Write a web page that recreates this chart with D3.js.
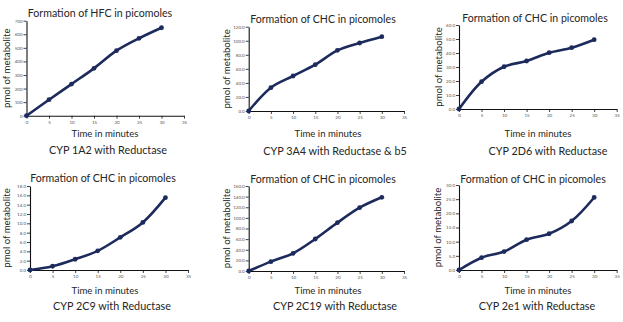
<!DOCTYPE html>
<html>
<head>
<meta charset="utf-8">
<script src="https://cdn.jsdelivr.net/npm/d3@7"></script>
<style>
  body { margin: 0; background: #fff; }
  text { font-family: Lato, "Liberation Sans", sans-serif; fill: #262626; }
</style>
</head>
<body>
<svg id="chart" width="623" height="322"></svg>
<script>
// time points (minutes)
var times = [0, 5, 10, 15, 20, 25, 30];

// pmol of metabolite
var hfc1A2   = [0, 118, 233, 349, 479, 570, 648];
var chc3A4   = [0, 33.2, 49.8, 65.9, 86.3, 96.8, 105.8];
var chc2D6   = [0, 19.5, 30.2, 34.3, 40.2, 43.8, 49.5];
var chc2C9   = [0, 0.8, 2.3, 4.1, 7.0, 10.2, 15.5];
var chc2C19  = [0, 17.6, 33.3, 60.2, 91.0, 119.2, 138.7];
var chc2e1   = [0, 4.35, 6.5, 10.7, 12.8, 17.3, 25.6];

var xTicks = [0, 5, 10, 15, 20, 25, 30, 35];
var yTicks1A2  = [0, 100, 200, 300, 400, 500, 600, 700];
var yTicks3A4  = [0, 20, 40, 60, 80, 100, 120];
var yTicks2D6  = [0, 10, 20, 30, 40, 50, 60];
var yTicks2C9  = [0, 2, 4, 6, 8, 10, 12, 14, 16, 18];
var yTicks2C19 = [0, 20, 40, 60, 80, 100, 120, 140, 160];
var yTicks2e1  = [0, 5, 10, 15, 20, 25, 30];

var titles = ["Formation of HFC in picomoles", "Formation of CHC in picomoles",
              "Formation of CHC in picomoles", "Formation of CHC in picomoles",
              "Formation of CHC in picomoles", "Formation of CHC in picomoles"];
var captions = ["CYP 1A2 with Reductase", "CYP 3A4 with Reductase & b5",
                "CYP 2D6 with Reductase", "CYP 2C9 with Reductase",
                "CYP 2C19 with Reductase", "CYP 2e1 with Reductase"];

var series = [hfc1A2, chc3A4, chc2D6, chc2C9, chc2C19, chc2e1];
var yTickSets = [yTicks1A2, yTicks3A4, yTicks2D6, yTicks2C9, yTicks2C19, yTicks2e1];

// where each small plot sits on the page
var layout = [
  { x0: 26.5,  x1: 184,   yTop: 20.7, yBot: 115.7, titleX: 100, titleY: 17,  ylabX: 7,   xlabX: 105, capX: 108, xlabY: 137, capY: 154, fmt: "d"   },
  { x0: 248.7, x1: 404,   yTop: 26.7, yBot: 111,   titleX: 323, titleY: 23,  ylabX: 227, xlabX: 328, capX: 335, xlabY: 137, capY: 155, fmt: ".1f" },
  { x0: 459,   x1: 616.7, yTop: 25,   yBot: 109,   titleX: 535, titleY: 22,  ylabX: 439, xlabX: 538, capX: 548, xlabY: 137, capY: 155, fmt: ".1f" },
  { x0: 30,    x1: 188,   yTop: 186,  yBot: 270,   titleX: 103, titleY: 182, ylabX: 7,   xlabX: 105, capX: 112, xlabY: 294, capY: 310, fmt: ".1f" },
  { x0: 248.7, x1: 404,   yTop: 186,  yBot: 271,   titleX: 323, titleY: 183, ylabX: 227, xlabX: 328, capX: 335, xlabY: 294, capY: 310, fmt: ".1f" },
  { x0: 459,   x1: 616.7, yTop: 185,  yBot: 270,   titleX: 533, titleY: 183, ylabX: 438, xlabX: 538, capX: 537, xlabY: 294, capY: 310, fmt: ".1f" }
];

var svg = d3.select("#chart");
var lineColor = "#1c2a5c";

layout.forEach(function (p, i) {
  var yTicks = yTickSets[i];
  var x = d3.scaleLinear().domain([0, 35]).range([p.x0, p.x1]);
  var y = d3.scaleLinear().domain([0, yTicks[yTicks.length - 1]]).range([p.yBot, p.yTop]);

  var g = svg.append("g");

  // axes
  var xAxis = g.append("g")
    .attr("transform", "translate(0," + p.yBot + ")")
    .call(d3.axisBottom(x).tickValues(xTicks).tickSize(3).tickSizeOuter(0).tickPadding(2));
  var yAxis = g.append("g")
    .attr("transform", "translate(" + p.x0 + ",0)")
    .call(d3.axisLeft(y).tickValues(yTicks).tickSize(3).tickSizeOuter(0).tickPadding(1)
      .tickFormat(d3.format(p.fmt)));

  [xAxis, yAxis].forEach(function (a) {
    a.select(".domain").attr("stroke", "#111").attr("stroke-width", 1.1);
    a.selectAll(".tick line").attr("stroke", "#111").attr("stroke-width", 0.8);
    a.selectAll(".tick text").attr("font-size", 4.5).style("fill", "#555")
      .attr("font-family", "Lato, sans-serif");
  });

  var pts = times.map(function (t, k) { return [t, series[i][k]]; });

  var line = d3.line()
    .x(function (d) { return x(d[0]); })
    .y(function (d) { return y(d[1]); })
    .curve(d3.curveCatmullRom.alpha(0.5));

  g.append("path")
    .datum(pts)
    .attr("d", line)
    .attr("fill", "none")
    .attr("stroke", lineColor)
    .attr("stroke-width", 2.6)
    .attr("stroke-linecap", "round");

  g.selectAll("circle")
    .data(pts)
    .enter().append("circle")
    .attr("cx", function (d) { return x(d[0]); })
    .attr("cy", function (d) { return y(d[1]); })
    .attr("r", 2.4)
    .attr("fill", lineColor);

  // texts
  g.append("text")
    .attr("x", p.titleX).attr("y", p.titleY)
    .attr("text-anchor", "middle")
    .attr("font-size", 10.6)
    .text(titles[i]);

  g.append("text")
    .attr("transform", "translate(" + p.ylabX + "," + ((p.yTop + p.yBot) / 2) + ") rotate(-90)")
    .attr("text-anchor", "middle")
    .attr("dy", "0.35em")
    .attr("font-size", 9.6)
    .text("pmol of metabolite");

  g.append("text")
    .attr("x", p.xlabX).attr("y", p.xlabY)
    .attr("text-anchor", "middle")
    .attr("font-size", 9.6)
    .text("Time in minutes");

  g.append("text")
    .attr("x", p.capX).attr("y", p.capY)
    .attr("text-anchor", "middle")
    .attr("font-size", 10.8)
    .text(captions[i]);
});
</script>
</body>
</html>
